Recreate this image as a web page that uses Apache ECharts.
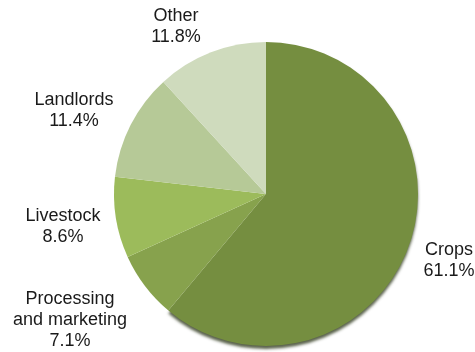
<!DOCTYPE html>
<html>
<head>
<meta charset="utf-8">
<title>Shares</title>
<script src="https://cdn.jsdelivr.net/npm/echarts@6/dist/echarts.min.js"></script>
<style>
  html, body { margin: 0; padding: 0; background: #ffffff; }
  #chart { width: 475px; height: 352px; }
</style>
</head>
<body>
<div id="chart"></div>
<script>
// Slice names and their shares (%)
const categories = ['Crops', 'Processing and marketing', 'Livestock', 'Landlords', 'Other'];
const shares = [61.1, 7.1, 8.6, 11.4, 11.8];
// Names as they are written beside the pie (line breaks included)
const labelNames = ['Crops', 'Processing\nand marketing', 'Livestock', 'Landlords', 'Other'];

// Styling
const sliceColors = ['#758e40', '#87a24d', '#9cbb5b', '#b6c997', '#cfdbbd'];
const labelCenters = [[449, 261], [70, 320], [63, 227], [74, 111], [176, 27]];

const chart = echarts.init(document.getElementById('chart'), null, { renderer: 'canvas' });

chart.setOption({
  animation: false,
  backgroundColor: '#ffffff',
  series: [{
    type: 'pie',
    center: [266, 194],
    radius: 152,
    startAngle: 90,
    clockwise: true,
    avoidLabelOverlap: false,
    silent: true,
    label: {
      show: true,
      position: 'outside',
      fontFamily: '"Liberation Sans", Arial, sans-serif',
      fontSize: 18,
      lineHeight: 21,
      color: '#1a1a1a',
      formatter: function (p) {
        return labelNames[p.dataIndex] + '\n' + shares[p.dataIndex].toFixed(1) + '%';
      }
    },
    labelLine: { show: false },
    labelLayout: function (p) {
      const c = labelCenters[p.dataIndex];
      return { x: c[0], y: c[1], align: 'center', verticalAlign: 'middle' };
    },
    itemStyle: { borderWidth: 0 },
    data: categories.map(function (name, i) {
      const item = {
        name: name,
        value: shares[i],
        itemStyle: { color: sliceColors[i] }
      };
      if (i === 0) {
        item.itemStyle.shadowColor = 'rgba(35, 45, 15, 0.75)';
        item.itemStyle.shadowBlur = 3;
        item.itemStyle.shadowOffsetY = 3;
      }
      return item;
    })
  }]
});
</script>
</body>
</html>
